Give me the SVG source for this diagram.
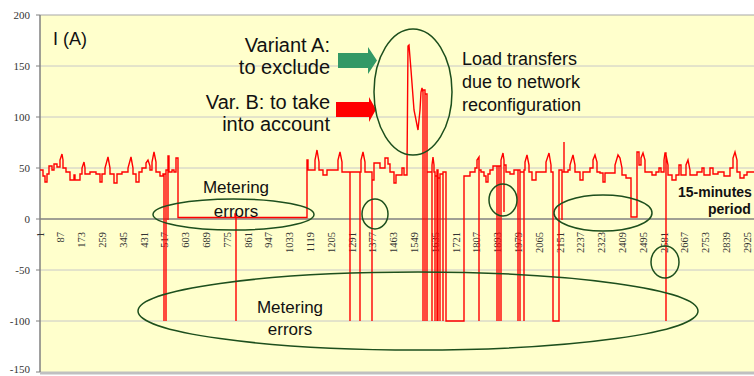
<svg xmlns="http://www.w3.org/2000/svg" width="754" height="376" viewBox="0 0 754 376">
<style>
.grid{stroke:#c8c8c8;stroke-width:1;fill:none}
.axis{stroke:#808080;stroke-width:1.5;fill:none}
.ylab{font-family:"Liberation Serif",serif;font-size:11px;fill:#333;text-anchor:end}
.xlab{font-family:"Liberation Serif",serif;font-size:10.5px;fill:#333;text-anchor:end}
.ann{font-family:"Liberation Sans",Arial,sans-serif;fill:#111}
.ell{fill:none;stroke:#1d4f1d;stroke-width:1.5}
.trace{fill:none;stroke:#ff0000;stroke-width:1.4;stroke-linejoin:miter}
</style>
<rect x="0" y="0" width="754" height="376" fill="#ffffff"/>
<g id="plot-area">
<rect x="40" y="15" width="714" height="357" fill="#ffffcc"/>
<path class="grid" d="M40,66H754M40,117H754M40,168H754M40,270H754M40,321H754"/>
<path d="M40,15H754" stroke="#a8a8a8" stroke-width="1.2"/>
<path d="M40,373H754" stroke="#c0c0c0" stroke-width="3"/>
</g>
<g id="axes">
<path class="axis" d="M40,15V372"/>
<path class="axis" d="M40,219H754" stroke-width="2"/>
<path d="M36,15H40M36,66H40M36,117H40M36,168H40M36,219H40M36,270H40M36,321H40M36,372H40" stroke="#808080" stroke-width="1"/>
<text class="ylab" x="30" y="19">200</text>
<text class="ylab" x="30" y="70">150</text>
<text class="ylab" x="30" y="121">100</text>
<text class="ylab" x="30" y="172">50</text>
<text class="ylab" x="30" y="223">0</text>
<text class="ylab" x="30" y="274">-50</text>
<text class="ylab" x="30" y="325">-100</text>
<text class="ylab" x="30" y="373">-150</text>
</g>
<g id="x-labels">
<text class="xlab" transform="translate(40,232) rotate(-90)" dy="0.35em">1</text>
<text class="xlab" transform="translate(60.8,232) rotate(-90)" dy="0.35em">87</text>
<text class="xlab" transform="translate(81.6,232) rotate(-90)" dy="0.35em">173</text>
<text class="xlab" transform="translate(102.4,232) rotate(-90)" dy="0.35em">259</text>
<text class="xlab" transform="translate(123.2,232) rotate(-90)" dy="0.35em">345</text>
<text class="xlab" transform="translate(144,232) rotate(-90)" dy="0.35em">431</text>
<text class="xlab" transform="translate(164.8,232) rotate(-90)" dy="0.35em">517</text>
<text class="xlab" transform="translate(185.6,232) rotate(-90)" dy="0.35em">603</text>
<text class="xlab" transform="translate(206.4,232) rotate(-90)" dy="0.35em">689</text>
<text class="xlab" transform="translate(227.2,232) rotate(-90)" dy="0.35em">775</text>
<text class="xlab" transform="translate(248,232) rotate(-90)" dy="0.35em">861</text>
<text class="xlab" transform="translate(268.8,232) rotate(-90)" dy="0.35em">947</text>
<text class="xlab" transform="translate(289.6,232) rotate(-90)" dy="0.35em">1033</text>
<text class="xlab" transform="translate(310.4,232) rotate(-90)" dy="0.35em">1119</text>
<text class="xlab" transform="translate(331.2,232) rotate(-90)" dy="0.35em">1205</text>
<text class="xlab" transform="translate(352,232) rotate(-90)" dy="0.35em">1291</text>
<text class="xlab" transform="translate(372.8,232) rotate(-90)" dy="0.35em">1377</text>
<text class="xlab" transform="translate(393.6,232) rotate(-90)" dy="0.35em">1463</text>
<text class="xlab" transform="translate(414.4,232) rotate(-90)" dy="0.35em">1549</text>
<text class="xlab" transform="translate(435.2,232) rotate(-90)" dy="0.35em">1635</text>
<text class="xlab" transform="translate(456,232) rotate(-90)" dy="0.35em">1721</text>
<text class="xlab" transform="translate(476.8,232) rotate(-90)" dy="0.35em">1807</text>
<text class="xlab" transform="translate(497.6,232) rotate(-90)" dy="0.35em">1893</text>
<text class="xlab" transform="translate(518.4,232) rotate(-90)" dy="0.35em">1979</text>
<text class="xlab" transform="translate(539.2,232) rotate(-90)" dy="0.35em">2065</text>
<text class="xlab" transform="translate(560,232) rotate(-90)" dy="0.35em">2151</text>
<text class="xlab" transform="translate(580.8,232) rotate(-90)" dy="0.35em">2237</text>
<text class="xlab" transform="translate(601.6,232) rotate(-90)" dy="0.35em">2323</text>
<text class="xlab" transform="translate(622.4,232) rotate(-90)" dy="0.35em">2409</text>
<text class="xlab" transform="translate(643.2,232) rotate(-90)" dy="0.35em">2495</text>
<text class="xlab" transform="translate(664,232) rotate(-90)" dy="0.35em">2581</text>
<text class="xlab" transform="translate(684.8,232) rotate(-90)" dy="0.35em">2667</text>
<text class="xlab" transform="translate(705.6,232) rotate(-90)" dy="0.35em">2753</text>
<text class="xlab" transform="translate(726.4,232) rotate(-90)" dy="0.35em">2839</text>
<text class="xlab" transform="translate(747.2,232) rotate(-90)" dy="0.35em">2925</text>
</g>
<g id="trace">
<path class="trace" d="M40,170H43V176H45V182H47V174H49V166H52V170H54V164H57V167H60V160L62,154L63,160V168H66V172H70V180H74V175H75V180H80V174H82V168L84,162L85,168V174H90V172H96V174H100V182H102V174H105V168L108,157L110,168V174H114V183H117V174H122V172H128V168L131,157L133,168V174H136V182H139V172H142V168H146V163L148,160L150,166V170H152V162L154,152L156,162V172H160V176H163V174H164V321V174H166V321V170H168V220V156H169V172H172V170H174V172H176V158H178V217.5H235V214H236V321V217.5H307V160H308V170H315V160L317,150L319,162V170H323V175H327V170H338V160L340,152L342,162V172H350V321V172H360V321V172H361V160L363,152L365,162V172H372V321V180H374V163H380V168H385V158H388V164H390V172H394V183H396V175H402V168H404V175H407V168L408,46L409,45L411,70L414,110L418,130L420,110L421,92L422,88L423,92V321V90H425V321V94H427V321V172H432V321V165L433,157L434,165V172H435V321V176H437V321V170H438V321V178H440V321V174H443V321V172H446V321H464V176H470V172H475V168H477V160L479,157V321V170H481V172H484V176H486V182H488V174H490V170H493V166H497V321V166H499V321V166H501V321V160L503,153L504,160V212V165H506V172H510V174H514V170H518V321V170H520V321V172H524V321V170H525V162L527,155L529,165V172H532V180H536V172H546V162L549,153L551,165V172H553V321H559V170H562V220V172H564V142V172H568V170H570V165L573,155L575,165V172H580V180H583V172H590V168H593V160L595,155L597,162V172H600V173H603V182H605V173H615V165L618,155L620,158L622,168V175H626V178H631V217H637V152H639V165H641V158L643,153L645,160V172H652V175H656V172H659V168H661V172H664V160L665,153L666,153V321V155L668,165V175H672V180H676V175H679V165H681V175H686V165L688,160L690,170V175H697V172H702V168H704V175H710V168H713V174H718V172H724V176H730V168H733V158L735,152L737,160V172H740V178H744V175H747V172H754"/>
</g>
<g id="title-label">
<text class="ann" x="53" y="45" font-size="18">I (A)</text>
</g>
<g id="variant-a">
<text class="ann" x="330" y="52" font-size="20" text-anchor="end">Variant A:</text>
<text class="ann" x="330" y="74" font-size="20" text-anchor="end">to exclude</text>
<polygon points="338,53 368,53 368,47 377,60.5 368,74 368,68 338,68" fill="#339966"/>
</g>
<g id="variant-b">
<text class="ann" x="330" y="109" font-size="20" text-anchor="end">Var. B: to take</text>
<text class="ann" x="330" y="131" font-size="20" text-anchor="end">into account</text>
<polygon points="336,102 369,102 369,97 376,109.5 369,122 369,117 336,117" fill="#ff0000"/>
</g>
<g id="load-transfers">
<ellipse class="ell" cx="413" cy="92" rx="39" ry="63"/>
<text class="ann" x="462" y="65" font-size="18">Load transfers</text>
<text class="ann" x="462" y="88" font-size="18">due to network</text>
<text class="ann" x="462" y="111" font-size="18">reconfiguration</text>
</g>
<g id="metering-errors-upper">
<ellipse class="ell" cx="233.5" cy="214.5" rx="80.5" ry="15.5"/>
<text class="ann" x="236" y="193" font-size="17" text-anchor="middle">Metering</text>
<text class="ann" x="236" y="217" font-size="17" text-anchor="middle">errors</text>
</g>
<g id="metering-errors-lower">
<ellipse class="ell" cx="418" cy="311" rx="280" ry="39"/>
<text class="ann" x="290" y="313" font-size="17" text-anchor="middle">Metering</text>
<text class="ann" x="290" y="335" font-size="17" text-anchor="middle">errors</text>
</g>
<g id="small-circles">
<ellipse class="ell" cx="375" cy="214" rx="13" ry="15"/>
<ellipse class="ell" cx="503" cy="200" rx="14" ry="16"/>
<ellipse class="ell" cx="603" cy="213" rx="49" ry="18"/>
<ellipse class="ell" cx="665" cy="262" rx="14" ry="16"/>
</g>
<g id="period-label">
<text class="ann" x="678" y="197" font-size="14" font-weight="bold">15-minutes</text>
<text class="ann" x="708" y="214" font-size="14" font-weight="bold">period</text>
</g>
</svg>
